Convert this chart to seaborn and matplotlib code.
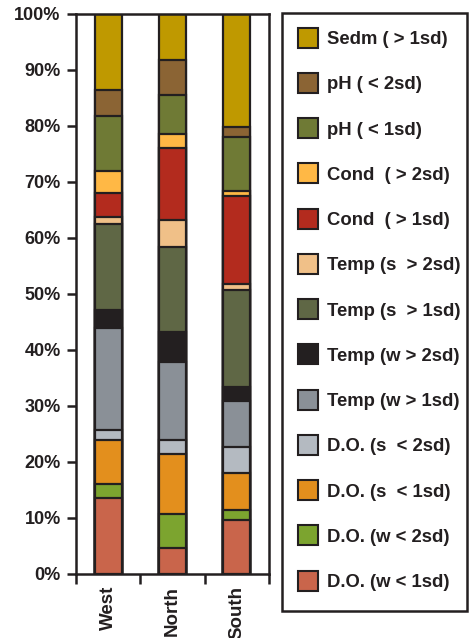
import matplotlib
matplotlib.use("Agg")
import matplotlib.pyplot as plt
import pandas as pd
import seaborn as sns
from matplotlib.lines import Line2D
from matplotlib.patches import Rectangle

regions = ["West", "North", "South"]

# stacked from bottom to top
classes = ["D.O. (w < 1sd)", "D.O. (w < 2sd)", "D.O. (s  < 1sd)", "D.O. (s  < 2sd)",
           "Temp (w > 1sd)", "Temp (w > 2sd)", "Temp (s  > 1sd)", "Temp (s  > 2sd)",
           "Cond  ( > 1sd)", "Cond  ( > 2sd)", "pH ( < 1sd)", "pH ( < 2sd)", "Sedm ( > 1sd)"]
colors = ["#c9654b", "#7ca42f", "#e38f1d", "#b4bac1", "#8a9097", "#231f20", "#5f6745",
          "#f0c088", "#b32b1e", "#ffb845", "#6f7a35", "#8b6434", "#bf9900"]

west = [13.5, 2.5, 7.9, 1.8, 18.2, 3.2, 15.4, 1.2, 4.3, 4.0, 9.7, 4.7, 13.6]
north = [4.5, 6.2, 10.7, 2.4, 14.0, 5.4, 15.1, 4.8, 13.0, 2.5, 7.0, 6.2, 8.2]
south = [9.5, 1.8, 6.6, 4.7, 8.2, 2.5, 17.4, 1.1, 15.6, 1.0, 9.7, 1.7, 20.2]

yticks = [0, 10, 20, 30, 40, 50, 60, 70, 80, 90, 100]
yticklabels = ["0%", "10%", "20%", "30%", "40%", "50%", "60%", "70%", "80%", "90%", "100%"]

df = pd.DataFrame({"West": west, "North": north, "South": south}, index=classes)
cum = df.cumsum()

sns.set_style("white")
plt.rcParams["font.family"] = ["Liberation Sans", "DejaVu Sans"]
plt.rcParams["font.weight"] = "bold"

dark = "#231f20"
fig = plt.figure(figsize=(4.70, 6.38), dpi=100)
ax = fig.add_axes([76 / 470, 1 - 573.5 / 638, (269 - 76) / 470, (573.5 - 14) / 638])

# draw cumulative totals from the top class down so lower ones overlay
for i in range(len(classes) - 1, -1, -1):
    sub = pd.DataFrame({"region": regions, "value": cum.iloc[i][regions].values})
    sns.barplot(data=sub, x="region", y="value", order=regions, color=colors[i],
                saturation=1, width=0.42, edgecolor=dark, linewidth=1.6, ax=ax)

ax.set_xlim(-0.5, 2.5)
ax.set_ylim(0, 100)
ax.set_xlabel("")
ax.set_ylabel("")
for s in ax.spines.values():
    s.set_visible(True)
    s.set_linewidth(1.8)
    s.set_color(dark)

ax.set_yticks(yticks)
ax.set_yticklabels(yticklabels, fontsize=13, fontweight="bold", color=dark)
ax.tick_params(axis="y", direction="out", length=6.5, width=1.8, color=dark, pad=4.5, left=True)

ax.set_xticks([0, 1, 2])
ax.set_xticklabels(regions, rotation=90, fontsize=13.5, fontweight="bold", color=dark,
                   ha="center", va="top")
ax.set_xticks([-0.5, 0.5, 1.5, 2.5], minor=True)
ax.tick_params(axis="x", which="major", length=0, pad=9, bottom=True)
ax.tick_params(axis="x", which="minor", direction="out", length=7.5, width=1.8,
               color=dark, bottom=True)

handles = [Line2D([], [], marker="s", linestyle="None", markersize=14.5,
                  markerfacecolor=c, markeredgecolor=dark, markeredgewidth=1.5)
           for c in colors]
leg = fig.legend(handles[::-1], classes[::-1], loc="upper left",
                 bbox_to_anchor=(297 / 470, 1 - 31 / 638), frameon=False,
                 prop={"size": 13.3, "weight": "bold"}, borderpad=0, borderaxespad=0,
                 handlelength=1.2, handletextpad=0.44, labelspacing=1.53)
for t in leg.get_texts():
    t.set_color(dark)

fig.add_artist(Rectangle((281.7 / 470, 1 - 611 / 638), (467 - 281.7) / 470, (611 - 13) / 638,
                         transform=fig.transFigure, fill=False, edgecolor=dark, linewidth=1.8))

fig.savefig("out.png", dpi=100)
